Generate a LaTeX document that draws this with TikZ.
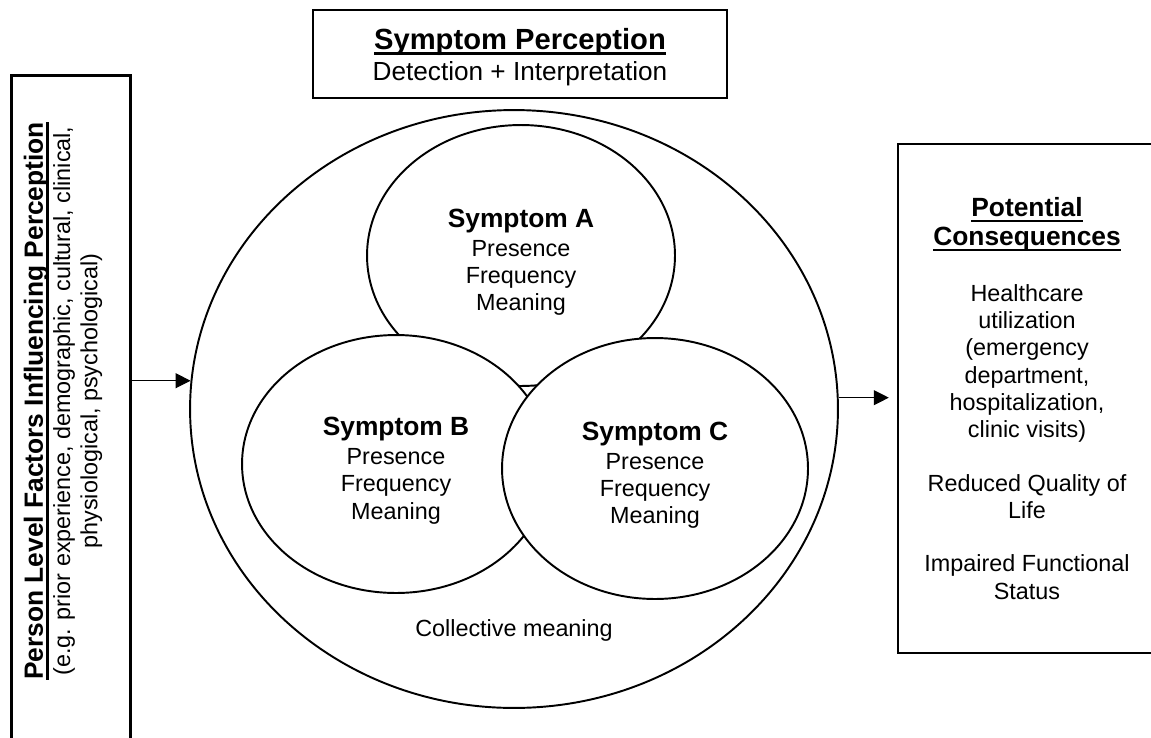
\documentclass[tikz,border=0pt]{standalone}
\usepackage{fontspec}
\setmainfont{Liberation Sans}
\usepackage{tikz}
\usetikzlibrary{arrows.meta,shapes.geometric}
\newcommand{\titlefont}{\fontsize{16.6}{19}\selectfont\bfseries}
\newcommand{\subfont}{\fontsize{14.9}{18}\selectfont}
\newcommand{\headfont}{\fontsize{15}{18}\selectfont\bfseries}
\newcommand{\bodyfont}{\fontsize{13.3}{15.5}\selectfont}
\newcommand{\ulhead}[1]{\setbox0\hbox{#1}\rlap{\rule[-3.2pt]{\wd0}{1.3pt}}\box0}
\newcommand{\symptext}[1]{{\headfont\rule{0pt}{18pt}Symptom #1}\\[1pt]Presence\\Frequency\\Meaning}

\begin{document}
\begin{tikzpicture}[
  x=0.02cm, y=-0.02cm,
  font=\bodyfont,
  box/.style={draw, line width=1.5pt, align=center, inner sep=0pt},
  symp/.style={ellipse, draw, line width=1.1pt, fill=white, align=center, inner sep=0pt},
  flow/.style={-{Triangle[length=8.5pt,width=8.5pt]}, line width=0.6pt}
]
\useasboundingbox (0,0) rectangle (1151,737);
\node[box, minimum width=8.28cm, minimum height=1.76cm, font=\subfont] (perception) at (520,54) {{\titlefont\rule{0pt}{15.5pt}\ulhead{Symptom Perception}}\\Detection + Interpretation};
\node[box, anchor=north west, minimum width=2.38cm, minimum height=13.8cm] (factors) at (10,74) {};
\node[rotate=90, align=center, inner sep=0pt] (factorstext) at (63,401) {{\headfont\ulhead{Person Level Factors Influencing Perception}}\\(e.g. prior experience, demographic, cultural, clinical,\\physiological, psychological)};
\node[symp, minimum width=12.96cm, minimum height=11.96cm] (whole) at (514,409) {};
\node[symp, minimum width=6.16cm, minimum height=5.22cm] (sa) at (521,255.5) {\symptext{A}};
\node[symp, minimum width=6.16cm, minimum height=5.16cm] (sb) at (396,464) {\symptext{B}};
\node[symp, minimum width=6.12cm, minimum height=5.22cm] (sc) at (655,468.5) {\symptext{C}};
\node (collective) at (514,630) {Collective meaning};
\node[box, minimum width=5.16cm, minimum height=10.18cm] (consequences) at (1027,398.5) {{\headfont\ulhead{Potential}}\\[1.1pt]{\headfont\ulhead{Consequences}}\\[16.1pt]Healthcare\\utilization\\(emergency\\department,\\hospitalization,\\clinic visits)\\[15pt]Reduced Quality of\\Life\\[15pt]Impaired Functional\\Status};
\draw[flow] (factors.east |- whole.175.5) -- (whole.175.5);
\draw[flow, shorten >=4.5pt] (whole.2.8) -- (consequences.west |- whole.2.8);
\end{tikzpicture}
\end{document}
